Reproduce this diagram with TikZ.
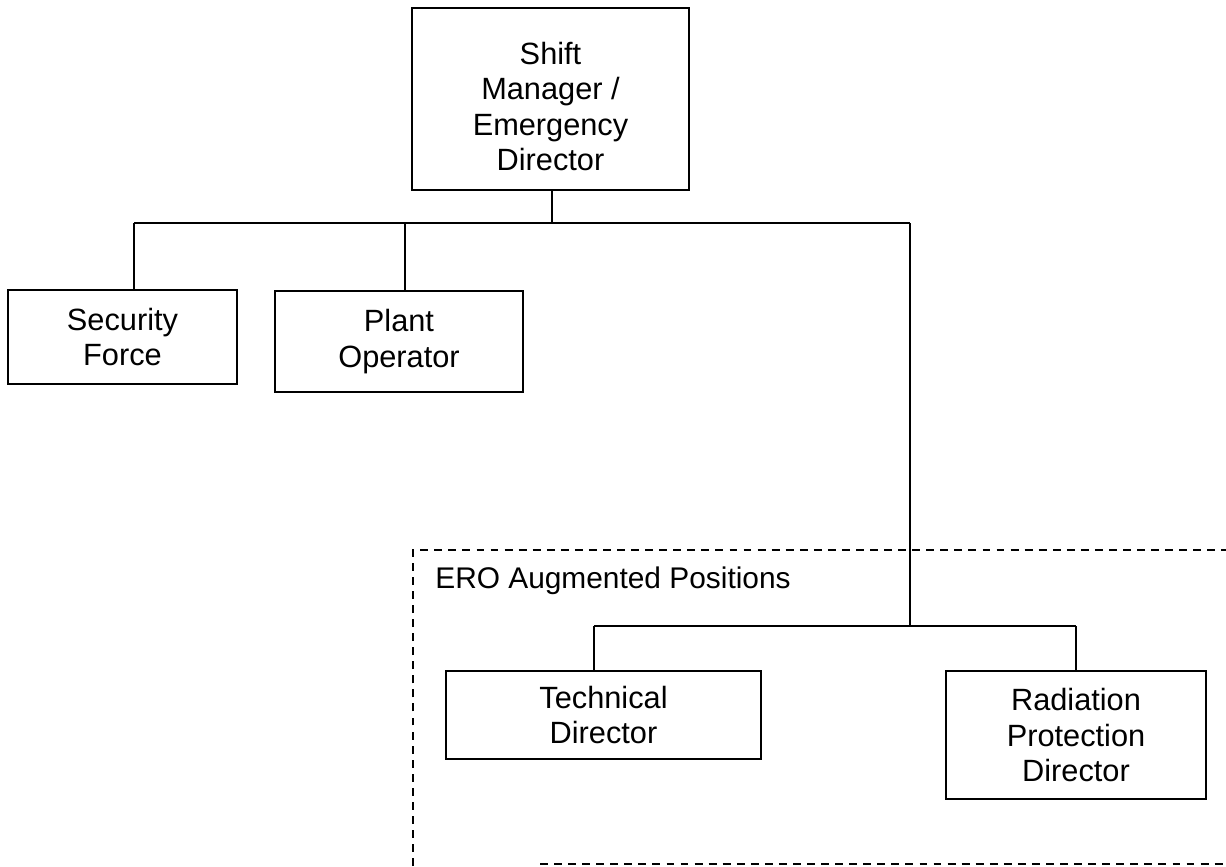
\documentclass[tikz,border=0pt]{standalone}
\usepackage{fontspec}
\setmainfont{Liberation Sans}
\usepackage{tikz}
\usetikzlibrary{calc}
\tikzset{
  post/.style={rectangle,draw=black,line width=1pt,align=center,inner sep=2pt,font={\fontsize{17.5}{20.2}\selectfont}},
  link/.style={line width=1pt,black},
  zone/.style={line width=1pt,black,dash pattern=on 4.5pt off 3.5pt},
  lbl/.style={font={\fontsize{17}{20.2}\selectfont},inner sep=0pt},
}
\begin{document}
\begin{tikzpicture}[x=0.02cm,y=-0.02cm]
  \useasboundingbox (0,0) rectangle (1226,866);
  % shift organisation (top)
  \node[post,minimum width=5.54cm,minimum height=3.64cm] (sm) at (550.5,99) {\rule{0pt}{21pt}Shift\\Manager /\\Emergency\\Director};
  \node[post,minimum width=4.58cm,minimum height=1.88cm] (sec) at (122.5,337) {Security\\Force};
  \node[post,minimum width=4.96cm,minimum height=2.02cm] (plant) at (399,341.5) {Plant\\Operator};
  \coordinate (jt) at (552,223);
  \coordinate (jl) at (134,223);
  \coordinate (jp) at (405,223);
  \coordinate (jr) at (910,223);
  \draw[link] (sm.south -| jt) -- (jt);
  \draw[link] (jl) -- (jr);
  \draw[link] (jl) -- (jl |- sec.north);
  \draw[link] (jp) -- (jp |- plant.north);
  % ERO augmented positions (bottom right)
  \draw[zone] (413,866) -- (413,550) -- (1226,550);
  \draw[zone] (540,864) -- (1226,864);
  \node[lbl,anchor=base west] (ero) at (435,588) {ERO Augmented Positions};
  \node[post,minimum width=6.3cm,minimum height=1.76cm] (tech) at (603.5,715) {Technical\\Director};
  \node[post,minimum width=5.2cm,minimum height=2.56cm] (rad) at (1076,735) {Radiation\\Protection\\Director};
  \coordinate (jb) at (910,626);
  \coordinate (jbl) at (594,626);
  \coordinate (jbr) at (1076,626);
  \draw[link] (jr) -- (jb);
  \draw[link] (jbl) -- (jbr);
  \draw[link] (jbl) -- (jbl |- tech.north);
  \draw[link] (jbr) -- (rad.north);
\end{tikzpicture}
\end{document}
